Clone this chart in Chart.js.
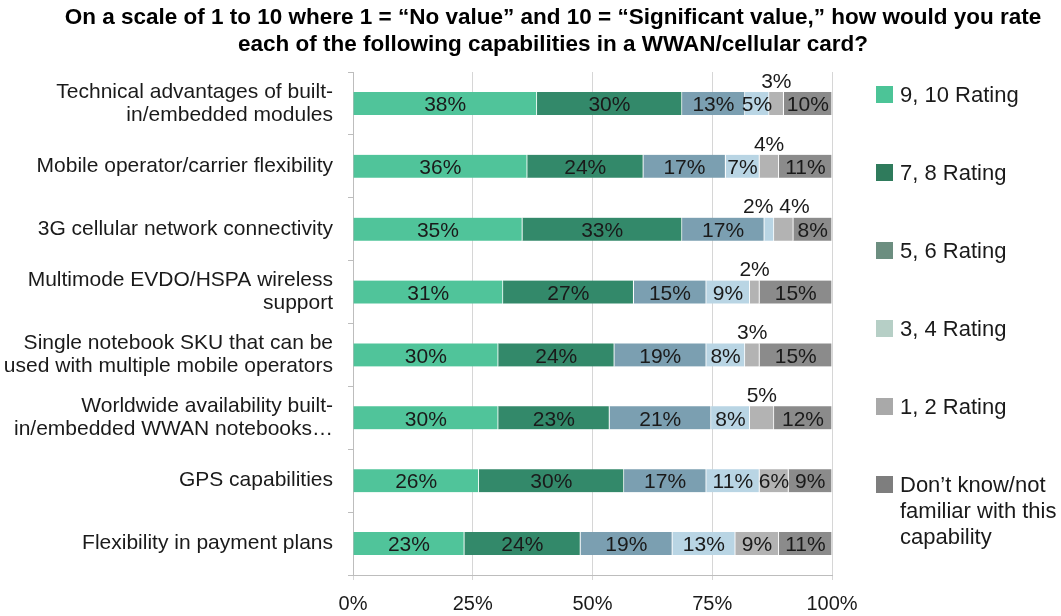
<!DOCTYPE html>
<html>
<head>
<meta charset="utf-8">
<title>WWAN card capabilities</title>
<script src="https://cdn.jsdelivr.net/npm/chart.js@4/dist/chart.umd.min.js"></script>
<style>
  html, body { margin: 0; padding: 0; background: #fff; }
  .chart-wrapper { width: 1061px; height: 616px; }
</style>
</head>
<body>
<div class="chart-wrapper">
  <canvas id="myChart" width="1061" height="616"></canvas>
</div>
<script>
const categories = [
  ['Technical advantages of built-', 'in/embedded modules'],
  'Mobile operator/carrier flexibility',
  '3G cellular network connectivity',
  ['Multimode EVDO/HSPA wireless', 'support'],
  ['Single notebook SKU that can be', 'used with multiple mobile operators'],
  ['Worldwide availability built-', 'in/embedded WWAN notebooks\u2026'],
  'GPS capabilities',
  'Flexibility in payment plans'
];

const seriesNames = [
  ['9, 10 Rating'],
  ['7, 8 Rating'],
  ['5, 6 Rating'],
  ['3, 4 Rating'],
  ['1, 2 Rating'],
  ['Don\u2019t know/not', 'familiar with this', 'capability']
];

const rating910 = [38, 36, 35, 31, 30, 30, 26, 23];
const rating78 = [30, 24, 33, 27, 24, 23, 30, 24];
const rating56 = [13, 17, 17, 15, 19, 21, 17, 19];
const rating34 = [5, 7, 2, 9, 8, 8, 11, 13];
const rating12 = [3, 4, 4, 2, 3, 5, 6, 9];
const dontKnow = [10, 11, 8, 15, 15, 12, 9, 11];

const tickLabels = ['0%', '25%', '50%', '75%', '100%'];

const titleLines = [
  'On a scale of 1 to 10 where 1 = \u201cNo value\u201d and 10 = \u201cSignificant value,\u201d how would you rate',
  'each of the following capabilities in a WWAN/cellular card?'
];

const seriesColors = ['#50c49a', '#33896a', '#7b9fb1', '#b9d5e4', '#b3b3b3', '#8b8b8b'];
const legendColors = ['#4cc497', '#2f7b5c', '#6c8e80', '#b6cfc6', '#a9a9a9', '#7e7e7e'];

const FONT = '"Liberation Sans", Arial, sans-serif';

// small values sit above the bar instead of inside it
function labelAbove(seriesIndex, value){
  return value <= 2 || (seriesIndex === 4 && value <= 5);
}

// two-line bold heading over the whole figure
const headline = {
  id: 'headline',
  afterDraw: function(chart, args, opts){
    const ctx = chart.ctx;
    ctx.save();
    ctx.font = 'bold 22.5px ' + FONT;
    ctx.fillStyle = '#000';
    ctx.textAlign = 'center';
    ctx.textBaseline = 'middle';
    titleLines.forEach(function(line, i){
      ctx.fillText(line, opts.x, opts.top + i * opts.lineHeight);
    });
    ctx.restore();
  }
};

// percent labels on each segment
const segmentLabels = {
  id: 'segmentLabels',
  afterDatasetsDraw: function(chart){
    const ctx = chart.ctx;
    const raised = [];
    ctx.save();
    ctx.font = '21px ' + FONT;
    ctx.fillStyle = '#1a1a1a';
    ctx.textAlign = 'center';
    ctx.textBaseline = 'middle';

    chart.data.datasets.forEach(function(dataset, i){
      chart.getDatasetMeta(i).data.forEach(function(bar, row){
        const value = dataset.percent[row];
        const cx = (bar.x + bar.base) / 2;
        if(labelAbove(i, value)){
          raised[row] = raised[row] || [];
          raised[row].push({text: value + '%', x: cx, y: bar.y - bar.height / 2 - 10});
        } else {
          ctx.fillText(value + '%', cx, bar.y + 2);
        }
      });
    });

    for(let list of raised){
      if(!list) continue;
      // push neighbouring labels apart so they don't overlap
      for(let k = 1; k < list.length; k++){
        const prev = list[k - 1];
        const cur = list[k];
        const need = (ctx.measureText(prev.text).width + ctx.measureText(cur.text).width) / 2 + 6;
        const gap = cur.x - prev.x;
        if(gap < need){
          const d = (need - gap) / 2;
          prev.x -= d;
          cur.x += d;
        }
      }
      for(let l of list){
        ctx.fillText(l.text, l.x, l.y);
      }
    }
    ctx.restore();
  }
};

// legend column on the right
const sideLegend = {
  id: 'sideLegend',
  afterDraw: function(chart, args, opts){
    const ctx = chart.ctx;
    ctx.save();
    ctx.font = '22px ' + FONT;
    ctx.textAlign = 'left';
    ctx.textBaseline = 'middle';
    seriesNames.forEach(function(lines, i){
      const y = opts.top + i * opts.step;
      ctx.fillStyle = legendColors[i];
      ctx.fillRect(opts.x, y - 10, 17, 17);
      ctx.fillStyle = '#1a1a1a';
      lines.forEach(function(line, j){
        ctx.fillText(line, opts.x + 24, y + j * opts.lineHeight);
      });
    });
    ctx.restore();
  }
};

const app = {
  buildDatasets: function(){
    const series = [rating910, rating78, rating56, rating34, rating12, dontKnow];
    const totals = categories.map(function(c, row){
      return series.reduce(function(sum, s){ return sum + s[row]; }, 0);
    });

    // 100% stacked: each segment is its share of the row total
    return series.map(function(values, i){
      return {
        label: seriesNames[i].join(' '),
        data: values.map(function(v, row){ return v / totals[row] * 100; }),
        percent: values,
        backgroundColor: seriesColors[i],
        borderColor: '#ffffff',
        borderWidth: {top: 0, bottom: 0, left: 0, right: 1},
        barThickness: 23
      };
    });
  },

  initChart: function(){
    const thisApp = this;
    thisApp.ctx = document.getElementById('myChart').getContext('2d');

    // eslint-disable-next-line no-undef
    thisApp.chart = new Chart(thisApp.ctx, {
      type: 'bar',
      data: {
        labels: categories,
        datasets: thisApp.buildDatasets()
      },
      plugins: [segmentLabels, sideLegend, headline],
      options: {
        indexAxis: 'y',
        responsive: false,
        animation: false,
        layout: {padding: {left: 0, right: 229, top: 72, bottom: 0}},
        scales: {
          x: {
            stacked: true,
            min: 0,
            max: 100,
            afterFit: function(scale){ scale.height = 41; },
            ticks: {
              stepSize: 25,
              padding: 12,
              color: '#1a1a1a',
              font: {family: FONT, size: 20},
              callback: function(value){ return tickLabels[value / 25]; }
            },
            grid: {color: '#d6d6d6', tickLength: 5},
            border: {color: '#bdbdbd'}
          },
          y: {
            stacked: true,
            afterFit: function(scale){ scale.width = 353; },
            ticks: {
              padding: 15,
              color: '#1a1a1a',
              font: {family: FONT, size: 21, lineHeight: 1.1}
            },
            grid: {offset: true, drawOnChartArea: false, tickLength: 5, color: '#bdbdbd'},
            border: {color: '#bdbdbd'}
          }
        },
        plugins: {
          legend: {display: false},
          tooltip: {enabled: false},
          title: {display: false},
          headline: {x: 553, top: 18, lineHeight: 27},
          sideLegend: {x: 876, top: 96, step: 78, lineHeight: 26}
        }
      }
    });
  },

  init: function(){
    this.initChart();
  }
};

app.init();
</script>
</body>
</html>
